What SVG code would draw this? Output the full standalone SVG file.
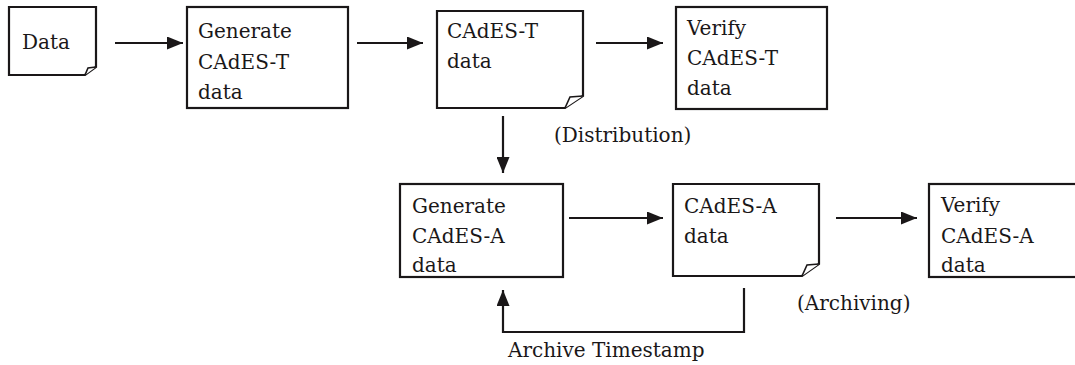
<svg xmlns="http://www.w3.org/2000/svg" width="1075" height="365" viewBox="0 0 1075 365">
<style>
.box{fill:#fff;stroke:#1a1718;stroke-width:2.2}
.flap{fill:#fff;stroke:#1a1718;stroke-width:1.6;stroke-linejoin:miter}
.ln{fill:none;stroke:#1a1718;stroke-width:2.2}
text{font-family:"DejaVu Serif","Liberation Serif",serif;font-size:20px;fill:#1a1718}
</style>
<defs>
<marker id="ah" viewBox="0 0 16 13" refX="16" refY="6.5" markerWidth="16" markerHeight="13" markerUnits="userSpaceOnUse" orient="auto">
<path d="M0,0 L16,6.5 L0,13 Z" fill="#1a1718"/>
</marker>
</defs>
<rect width="1075" height="365" fill="#fff"/>
<g id="n-data">
<path class="box" d="M9,7 H96 V67 L85,75 H9 Z"/>
<path class="flap" d="M85,75 L88,68 L96,67"/>
<text x="22" y="49">Data</text>
</g>
<g id="n-gen-t">
<rect class="box" x="187" y="7" width="161" height="101"/>
<text x="198" y="38">Generate</text>
<text x="198" y="69">CAdES-T</text>
<text x="198" y="99">data</text>
</g>
<g id="n-cades-t">
<path class="box" d="M437,11 H583 V96 L565,108 H437 Z"/>
<path class="flap" d="M565,108 L570,97 L583,96"/>
<text x="447" y="38">CAdES-T</text>
<text x="447" y="68">data</text>
</g>
<g id="n-verify-t">
<rect class="box" x="676" y="7" width="151" height="102"/>
<text x="687" y="35">Verify</text>
<text x="687" y="65">CAdES-T</text>
<text x="687" y="95">data</text>
</g>
<g id="n-gen-a">
<rect class="box" x="400" y="184" width="163" height="93"/>
<text x="412" y="213">Generate</text>
<text x="412" y="243">CAdES-A</text>
<text x="412" y="272">data</text>
</g>
<g id="n-cades-a">
<path class="box" d="M673,184 H819 V264 L802,276 H673 Z"/>
<path class="flap" d="M802,276 L807,265 L819,264"/>
<text x="684" y="213">CAdES-A</text>
<text x="684" y="243">data</text>
</g>
<g id="n-verify-a">
<rect class="box" x="929" y="184" width="160" height="93"/>
<text x="941" y="212">Verify</text>
<text x="941" y="243">CAdES-A</text>
<text x="941" y="272">data</text>
</g>
<g id="connectors">
<line class="ln" x1="115" y1="43" x2="183" y2="43" marker-end="url(#ah)"/>
<line class="ln" x1="357" y1="43" x2="423" y2="43" marker-end="url(#ah)"/>
<line class="ln" x1="596" y1="43" x2="663" y2="43" marker-end="url(#ah)"/>
<line class="ln" x1="503" y1="116" x2="503" y2="173" marker-end="url(#ah)"/>
<line class="ln" x1="569" y1="218" x2="663" y2="218" marker-end="url(#ah)"/>
<line class="ln" x1="836" y1="218" x2="917" y2="218" marker-end="url(#ah)"/>
<polyline class="ln" points="744,288 744,332 503,332 503,290" marker-end="url(#ah)"/>
</g>
<g id="labels">
<text x="554" y="142">(Distribution)</text>
<text x="797" y="310">(Archiving)</text>
<text x="508" y="357">Archive Timestamp</text>
</g>
</svg>
